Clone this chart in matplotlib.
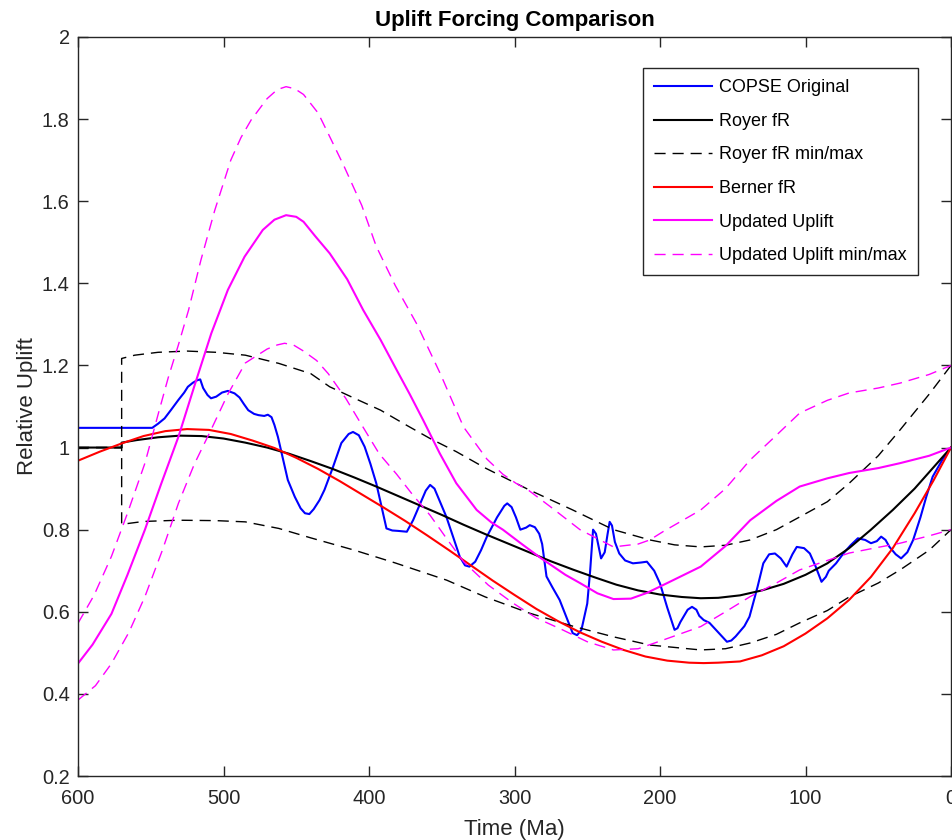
import matplotlib.pyplot as plt
import numpy as np

plt.rcParams['font.family'] = ['Liberation Sans', 'DejaVu Sans']

# COPSE original uplift forcing
copse_t = [600, 549, 545, 540.5, 536, 531, 527, 524.5, 521, 518, 516, 514, 511, 508.6, 505,
           501, 497, 492.4, 489, 486, 483, 479, 476, 472, 469.5, 467, 465, 462.6, 459,
           455.8, 451, 447, 444, 441, 438, 434, 430.6, 425, 419, 414, 411, 407, 403, 399,
           395, 391, 388, 384, 380, 374, 369.7, 364, 361, 358, 355, 352, 346.8, 342, 337.6,
           334, 331, 327, 323, 319, 312, 307, 305, 302, 299, 296, 292, 289.5, 286, 283,
           281, 278, 274, 269, 263, 260, 257, 254, 250, 248, 246, 244, 242, 240.5, 238,
           236, 234.6, 233, 231, 228, 224, 218.6, 213, 209, 204, 200, 195, 190, 188, 186,
           181, 178, 175, 173, 170, 166, 160, 154, 151, 148, 142, 138.5, 133, 129, 125, 121,
           117, 113, 109, 106, 101, 97, 93, 89, 86, 84, 79, 74, 69, 64, 59, 55, 51, 48,
           45, 42.3, 38, 34.3, 30, 26, 21, 17, 12.6, 6, 0]
copse_v = [1.048, 1.048, 1.058, 1.071, 1.092, 1.116, 1.134, 1.148, 1.158, 1.164, 1.166,
           1.145, 1.128, 1.12, 1.124, 1.134, 1.138, 1.132, 1.122, 1.106, 1.091, 1.082,
           1.079, 1.077, 1.08, 1.074, 1.055, 1.026, 0.97, 0.921, 0.88, 0.852, 0.84, 0.838,
           0.85, 0.872, 0.897, 0.95, 1.011, 1.033, 1.038, 1.03, 1.002, 0.96, 0.913, 0.85,
           0.803, 0.798, 0.797, 0.795, 0.823, 0.87, 0.895, 0.909, 0.9, 0.875, 0.831, 0.78,
           0.734, 0.713, 0.71, 0.722, 0.75, 0.783, 0.83, 0.858, 0.864, 0.855, 0.83, 0.80,
           0.805, 0.811, 0.806, 0.79, 0.765, 0.686, 0.66, 0.629, 0.575, 0.548, 0.543, 0.556,
           0.62, 0.70, 0.80, 0.79, 0.755, 0.73, 0.745, 0.79, 0.819, 0.81, 0.77, 0.742,
           0.725, 0.718, 0.72, 0.722, 0.70, 0.669, 0.61, 0.556, 0.56, 0.575, 0.605, 0.612,
           0.605, 0.59, 0.58, 0.573, 0.55, 0.527, 0.53, 0.54, 0.565, 0.588, 0.66, 0.718,
           0.74, 0.742, 0.73, 0.71, 0.74, 0.758, 0.755, 0.742, 0.71, 0.673, 0.685, 0.70,
           0.718, 0.742, 0.762, 0.779, 0.775, 0.767, 0.772, 0.783, 0.775, 0.758, 0.74,
           0.73, 0.745, 0.775, 0.83, 0.88, 0.929, 0.97, 1.0]

# Royer fR
royer_t = [600, 570, 570, 560, 545, 530, 515, 500, 485, 470, 455, 440, 425, 410, 395, 380,
           365, 350, 335, 320, 305, 290, 275, 260, 245, 230, 215, 200, 185, 172, 160, 145,
           130, 115, 100, 85, 70, 55, 40, 25, 10, 0]
royer_v = [1.0, 1.0, 1.012, 1.018, 1.025, 1.029, 1.028, 1.022, 1.012, 1.0, 0.985, 0.967,
           0.948, 0.927, 0.905, 0.882, 0.859, 0.836, 0.812, 0.789, 0.767, 0.745, 0.723,
           0.703, 0.684, 0.666, 0.652, 0.642, 0.636, 0.633, 0.634, 0.64, 0.652, 0.668, 0.69,
           0.718, 0.755, 0.80, 0.848, 0.90, 0.96, 1.0]

# Royer fR min / max
royer_max_t = [600, 570, 570, 561, 545, 525, 505, 485, 462, 440, 427, 410, 392, 375, 358,
               340, 320, 290, 260, 232, 207, 190, 172, 155, 138, 120, 104, 85, 70, 50, 35,
               15, 0]
royer_max_v = [1.0, 1.0, 1.217, 1.225, 1.232, 1.235, 1.232, 1.225, 1.205, 1.18, 1.148,
               1.12, 1.091, 1.056, 1.022, 0.99, 0.95, 0.897, 0.848, 0.80, 0.775, 0.763,
               0.758, 0.762, 0.775, 0.80, 0.831, 0.868, 0.913, 0.98, 1.043, 1.13, 1.2]
royer_min_t = [600, 570, 570, 555, 531, 505, 485, 462, 440, 410, 382, 346.6, 320, 290, 260,
               232, 207, 172, 155, 138, 120, 104, 85, 70, 50, 35, 15, 0]
royer_min_v = [1.0, 1.0, 0.813, 0.82, 0.823, 0.822, 0.819, 0.803, 0.78, 0.75, 0.719, 0.677,
               0.636, 0.597, 0.565, 0.539, 0.519, 0.507, 0.51, 0.524, 0.545, 0.573, 0.603,
               0.636, 0.67, 0.702, 0.75, 0.8]

# Berner fR
berner_t = [600, 585, 570, 555, 540, 525, 510, 495, 480, 465, 450, 435, 420, 405, 390, 375,
            360, 345, 330, 315, 300, 285, 270, 255, 240, 225, 210, 195, 180, 170, 160, 145,
            130, 115, 100, 85, 70, 55, 40, 25, 12, 0]
berner_v = [0.968, 0.99, 1.01, 1.028, 1.04, 1.045, 1.043, 1.033, 1.017, 0.999, 0.975, 0.948,
            0.918, 0.886, 0.854, 0.821, 0.786, 0.75, 0.713, 0.676, 0.641, 0.607, 0.577,
            0.55, 0.527, 0.507, 0.491, 0.481, 0.476, 0.475, 0.476, 0.479, 0.494, 0.516,
            0.547, 0.584, 0.629, 0.685, 0.755, 0.84, 0.92, 1.0]

# Updated uplift
upd_t = [600, 590, 577, 566, 554, 543, 531, 520, 508.4, 497, 485.5, 473, 465, 457, 450, 445,
         437, 427, 415, 404, 392, 381, 372, 362.8, 351.4, 340, 326, 316, 308, 295, 282, 265,
         255, 243, 232, 220, 209, 195, 172, 155, 138, 120, 104, 85, 70, 50, 35, 15, 0]
upd_v = [0.474, 0.52, 0.595, 0.69, 0.80, 0.91, 1.026, 1.15, 1.278, 1.384, 1.465, 1.53, 1.555,
         1.566, 1.562, 1.55, 1.515, 1.473, 1.41, 1.335, 1.262, 1.189, 1.13, 1.067, 0.986,
         0.913, 0.848, 0.818, 0.80, 0.765, 0.731, 0.69, 0.67, 0.645, 0.631, 0.632, 0.646,
         0.67, 0.71, 0.76, 0.823, 0.87, 0.905, 0.925, 0.938, 0.95, 0.962, 0.98, 1.0]

# Updated uplift min / max
upd_max_t = [600, 589, 577, 566, 554, 545, 538, 531, 524, 515.5, 506, 495, 488, 481, 470, 463,
             457, 451, 445, 435, 426, 417, 405, 395, 382, 367, 351, 335, 319, 308, 299, 290,
             275, 255, 232, 215, 207, 198, 172, 155, 138, 120, 104, 85, 70, 50, 35, 15, 0]
upd_max_v = [0.572, 0.64, 0.735, 0.84, 0.962, 1.08, 1.17, 1.25, 1.335, 1.457, 1.578, 1.70,
             1.755, 1.798, 1.85, 1.872, 1.879, 1.874, 1.86, 1.815, 1.75, 1.684, 1.59, 1.49,
             1.395, 1.30, 1.18, 1.05, 0.972, 0.935, 0.913, 0.895, 0.855, 0.80, 0.758, 0.765,
             0.775, 0.795, 0.848, 0.9, 0.97, 1.03, 1.084, 1.115, 1.133, 1.145, 1.157, 1.178,
             1.2]
upd_min_t = [600, 588, 577, 565, 554, 542, 531, 520, 508.6, 497, 485, 470, 463, 458, 452,
             445, 436, 428, 416, 405, 393, 381, 370, 358, 347, 335, 318, 301, 285, 267, 250,
             232, 215, 198, 172, 155, 138, 120, 104, 85, 70, 50, 35, 15, 0]
upd_min_v = [0.385, 0.42, 0.474, 0.55, 0.637, 0.75, 0.864, 0.96, 1.043, 1.13, 1.206, 1.24,
             1.25, 1.254, 1.25, 1.235, 1.212, 1.18, 1.12, 1.055, 0.985, 0.935, 0.885, 0.835,
             0.78, 0.722, 0.665, 0.621, 0.585, 0.556, 0.527, 0.507, 0.51, 0.531, 0.564, 0.6,
             0.637, 0.67, 0.702, 0.725, 0.743, 0.757, 0.767, 0.785, 0.8]

ytick_vals = [0.2, 0.4, 0.6, 0.8, 1.0, 1.2, 1.4, 1.6, 1.8, 2.0]
ytick_labels = ['0.2', '0.4', '0.6', '0.8', '1', '1.2', '1.4', '1.6', '1.8', '2']
xtick_vals = [600, 500, 400, 300, 200, 100, 0]

fig = plt.figure(figsize=(9.52, 8.4), dpi=100)
ax = fig.add_axes([78 / 952, 64 / 840, 873 / 952, 739 / 840])

lw = 1.5
dash = (0, (8, 5))
ax.plot(copse_t, copse_v, color='#0000ff', lw=lw, label='COPSE Original')
ax.plot(royer_t, royer_v, color='k', lw=lw, label='Royer fR')
ax.plot(royer_max_t, royer_max_v, color='k', lw=1.0, ls=dash, label='Royer fR min/max')
ax.plot(royer_min_t, royer_min_v, color='k', lw=1.0, ls=dash)
ax.plot(berner_t, berner_v, color='#ff0000', lw=lw, label='Berner fR')
ax.plot(upd_t, upd_v, color='#ff00ff', lw=lw, label='Updated Uplift')
ax.plot(upd_max_t, upd_max_v, color='#ff00ff', lw=1.0, ls=dash, label='Updated Uplift min/max')
ax.plot(upd_min_t, upd_min_v, color='#ff00ff', lw=1.0, ls=dash)

ax.set_xlim(600, 0)
ax.set_ylim(0.2, 2)
ax.set_xticks(xtick_vals)
ax.set_yticks(ytick_vals)
ax.set_yticklabels(ytick_labels)

grey = '#262626'
for s in ax.spines.values():
    s.set_color(grey)
    s.set_linewidth(1.0)
ax.tick_params(direction='in', top=True, right=True, length=7, width=1.0,
               color=grey, labelcolor=grey, labelsize=14.4)
ax.tick_params(axis='x', pad=9)
ax.tick_params(axis='y', pad=6)

ax.set_xlabel('Time (Ma)', fontsize=16, color=grey, labelpad=8)
ax.set_ylabel('Relative Uplift', fontsize=16, color=grey, labelpad=3)
ax.set_title('Uplift Forcing Comparison', fontsize=16, fontweight='bold', pad=8)

leg = ax.legend(loc='upper left', bbox_to_anchor=(0.647, 0.958), fontsize=13,
                frameon=True, fancybox=False, framealpha=1, edgecolor=grey,
                handlelength=3.2, handletextpad=0.4, labelspacing=0.92,
                borderpad=0.62, borderaxespad=0)
leg.get_frame().set_linewidth(1.0)

fig.savefig('out.png', dpi=100)
